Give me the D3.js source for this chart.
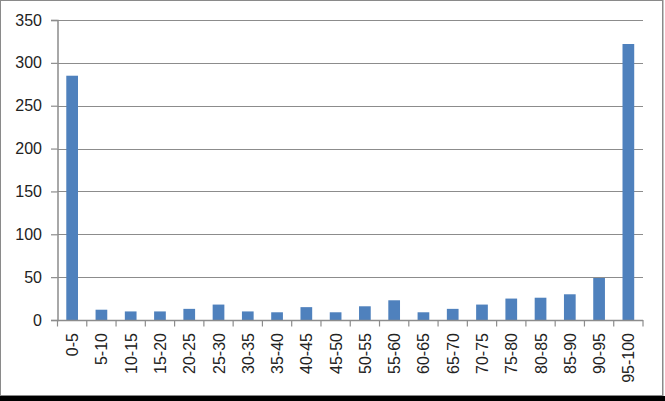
<!DOCTYPE html>
<html><head><meta charset="utf-8">
<script src="https://cdn.jsdelivr.net/npm/d3@7"></script>
<style>
html,body{margin:0;padding:0;background:#fff;}
svg{display:block;}
text{font-family:"Liberation Sans",Arial,sans-serif;}
</style></head>
<body>
<script>
const categories = ["0-5","5-10","10-15","15-20","20-25","25-30","30-35","35-40","40-45","45-50","50-55","55-60","60-65","65-70","70-75","75-80","80-85","85-90","90-95","95-100"];
const values = [285,12,10,10,13,18,10,9,15,9,16,23,9,13,18,25,26,30,49,322];
const yTicks = [0,50,100,150,200,250,300,350];

const W = 665, H = 401;
const svg = d3.select("body").append("svg").attr("width", W).attr("height", H);

// frame
svg.append("rect").attr("x",0.5).attr("y",0.5).attr("width",662).attr("height",395)
  .attr("fill","#fff").attr("stroke","#8a8a8a").attr("stroke-width",1);
svg.append("rect").attr("x",662).attr("y",0).attr("width",1.5).attr("height",396).attr("fill","#8a8a8a");
svg.append("rect").attr("x",0).attr("y",396).attr("width",W).attr("height",5).attr("fill","#000");

const x0 = 57.5, x1 = 643, yTop = 20, yBot = 320;
const x = d3.scaleBand().domain(categories).range([x0, x1]).paddingInner(0.6).paddingOuter(0.3);
const y = d3.scaleLinear().domain([0, 350]).range([yBot, yTop]);

// gridlines
svg.append("g").selectAll("line").data(yTicks.filter(d => d > 0)).join("line")
  .attr("x1", x0).attr("x2", x1)
  .attr("y1", d => Math.round(y(d)) + 0.5).attr("y2", d => Math.round(y(d)) + 0.5)
  .attr("stroke", "#8c8c8c").attr("stroke-width", 1.2);

// y axis
const yAxis = d3.axisLeft(y).tickValues(yTicks).tickSize(6.5).tickPadding(9);
const gy = svg.append("g").attr("transform", `translate(${x0},0)`).call(yAxis);
gy.select(".domain").attr("stroke", "#8c8c8c").attr("stroke-width", 1.5);
gy.selectAll(".tick line").attr("stroke", "#8c8c8c").attr("stroke-width", 1.2);
gy.selectAll(".tick text").attr("font-size", 16).attr("fill", "#222")
  .attr("font-family", "Liberation Sans, Arial, sans-serif");

// bars
svg.append("g").selectAll("rect").data(values).join("rect")
  .attr("x", (d, i) => x(categories[i]))
  .attr("width", x.bandwidth())
  .attr("y", d => y(d))
  .attr("height", d => y(0) - y(d))
  .attr("fill", "#4f81bd");

// x axis line and ticks at band boundaries
const step = x.step();
const gx = svg.append("g");
gx.append("line").attr("x1", x0).attr("x2", x1).attr("y1", yBot + 0.5).attr("y2", yBot + 0.5)
  .attr("stroke", "#8c8c8c").attr("stroke-width", 1.5);
gx.selectAll("line.tk").data(d3.range(categories.length + 1)).join("line").attr("class","tk")
  .attr("x1", i => x0 + i * step).attr("x2", i => x0 + i * step)
  .attr("y1", yBot).attr("y2", yBot + 6.5)
  .attr("stroke", "#8c8c8c").attr("stroke-width", 1.2);
gx.selectAll("text").data(categories).join("text")
  .attr("transform", d => `translate(${x(d) + x.bandwidth() / 2 + 6},${yBot + 13}) rotate(-90)`)
  .attr("text-anchor", "end")
  .attr("font-size", 16).attr("fill", "#222")
  .text(d => d);
</script>
</body></html>
